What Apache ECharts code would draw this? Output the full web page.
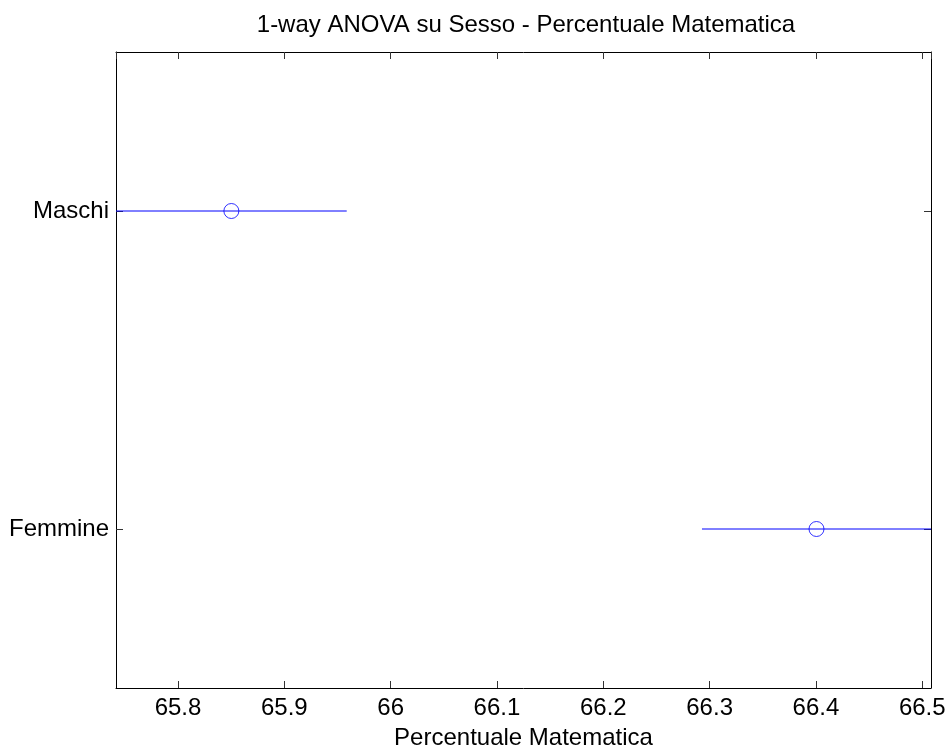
<!DOCTYPE html>
<html>
<head>
<meta charset="utf-8">
<script src="https://cdn.jsdelivr.net/npm/echarts@6/dist/echarts.min.js"></script>
<style>
html,body{margin:0;padding:0;background:#fff;}
#chart{width:950px;height:755px;}
</style>
</head>
<body>
<div id="chart"></div>
<script>
const titleText = '1-way ANOVA su Sesso - Percentuale Matematica';
const xAxisName = 'Percentuale Matematica';
const groups = ['Maschi', 'Femmine'];
const means = [65.8502, 66.4005];
const lowers = [65.7417, 66.2928];
const uppers = [65.9587, 66.5082];
const xMin = 65.7417;
const xMax = 66.5082;

const FONT = "'Liberation Sans', Arial, Helvetica, sans-serif";
const BLUE = '#0000ff';

const chart = echarts.init(document.getElementById('chart'), null, {renderer: 'canvas'});

function tickLabel(v) {
  const r = Math.round(v * 10);
  if (Math.abs(v * 10 - r) > 1e-6) return '';
  return String(+(r / 10).toFixed(1));
}

const series = [];
groups.forEach(function (g, i) {
  series.push({
    type: 'line',
    xAxisIndex: 0, yAxisIndex: 0,
    data: [[lowers[i], g], [uppers[i], g]],
    symbol: 'none',
    lineStyle: {color: BLUE, width: 1},
    silent: true,
    z: 2
  });
});
series.push({
  type: 'scatter',
  xAxisIndex: 0, yAxisIndex: 0,
  data: groups.map(function (g, i) { return [means[i], g]; }),
  symbol: 'circle',
  symbolSize: 15,
  itemStyle: {color: 'rgba(0,0,0,0)', borderColor: BLUE, borderWidth: 1},
  z: 3
});

const axisLineStyle = {show: true, onZero: false, lineStyle: {color: '#000', width: 1}};

chart.setOption({
  animation: false,
  backgroundColor: '#fff',
  title: {
    text: titleText,
    left: 526,
    textAlign: 'center',
    top: 13,
    padding: 0,
    textStyle: {fontFamily: FONT, fontSize: 24, fontWeight: 'normal', color: '#000'}
  },
  grid: {left: 116, right: 19, top: 52, bottom: 61, containLabel: false},
  xAxis: [
    {
      type: 'value', position: 'bottom', min: xMin, max: xMax, splitNumber: 7,
      axisLine: axisLineStyle,
      axisTick: {show: true, inside: true, length: 7, lineStyle: {color: '#333'}},
      axisLabel: {show: true, showMinLabel: false, showMaxLabel: false, formatter: tickLabel,
        margin: 8, fontFamily: FONT, fontSize: 24, color: '#000'},
      splitLine: {show: false},
      name: xAxisName, nameLocation: 'middle', nameGap: 38,
      nameTextStyle: {fontFamily: FONT, fontSize: 24, color: '#000'}
    },
    {
      type: 'value', position: 'top', min: xMin, max: xMax, splitNumber: 7,
      axisLine: axisLineStyle,
      axisTick: {show: true, inside: true, length: 7, lineStyle: {color: '#333'}},
      axisLabel: {show: false},
      splitLine: {show: false}
    }
  ],
  yAxis: [
    {
      type: 'category', position: 'left', data: groups, inverse: true,
      axisLine: axisLineStyle,
      axisTick: {show: true, inside: true, alignWithLabel: true, length: 7, lineStyle: {color: '#333'}},
      axisLabel: {show: true, margin: 7, fontFamily: FONT, fontSize: 24, color: '#000'},
      splitLine: {show: false}
    },
    {
      type: 'category', position: 'right', data: groups, inverse: true,
      axisLine: axisLineStyle,
      axisTick: {show: true, inside: true, alignWithLabel: true, length: 7, lineStyle: {color: '#333'}},
      axisLabel: {show: false},
      splitLine: {show: false}
    }
  ],
  series: series
});
</script>
</body>
</html>
